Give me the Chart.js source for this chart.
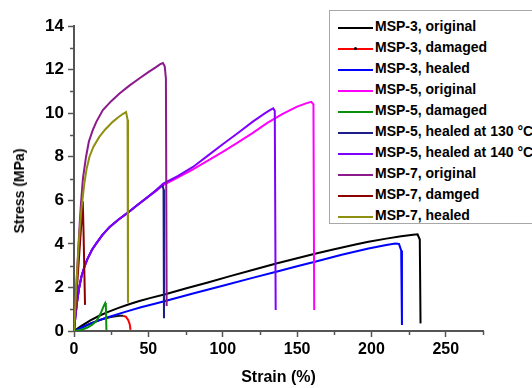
<!DOCTYPE html>
<html>
<head>
<meta charset="utf-8">
<script src="https://cdn.jsdelivr.net/npm/chart.js@4.4.0/dist/chart.umd.min.js"></script>
<style>
html,body{margin:0;padding:0;background:#fff;}
#wrap{position:relative;width:532px;height:388px;overflow:hidden;background:#fff;}
#c{position:absolute;left:0;top:0;}
#ytitle{position:absolute;left:19px;top:191px;transform:translate(-50%,-50%) rotate(-90deg);font:bold 14px "Liberation Sans",Arial,sans-serif;white-space:nowrap;color:#000;}
#legend{position:absolute;left:329px;top:10px;width:230px;height:214px;border:1px solid #a8a8a8;background:#fff;box-sizing:border-box;}
.row{position:absolute;left:0;height:20px;width:100%;}
.sw{position:absolute;left:8px;top:9px;width:35px;height:2px;}
.dot{position:absolute;left:16px;top:-1px;width:3px;height:3px;border-radius:50%;background:#000;}
.lt{position:absolute;left:45px;top:0;line-height:20px;font:bold 14px "Liberation Sans",Arial,sans-serif;color:#000;white-space:nowrap;}
</style>
</head>
<body>
<div id="wrap">
<canvas id="c" width="532" height="388" style="width:532px;height:388px"></canvas>
<div id="ytitle">Stress (MPa)</div>
<div id="legend"></div>
</div>
<script>
// ---- Tick values ----
const xTicks = [0, 50, 100, 150, 200, 250];
const yTicks = [0, 2, 4, 6, 8, 10, 12, 14];
const xMinor = [25, 75, 125, 175, 225, 275];
const yMinor = [1, 3, 5, 7, 9, 11, 13];

// ---- Series labels ----
const seriesLabels = [
  "MSP-3, original", "MSP-3, damaged", "MSP-3, healed",
  "MSP-5, original", "MSP-5, damaged", "MSP-5, healed at 130 \u00B0C",
  "MSP-5, healed at 140 \u00B0C", "MSP-7, original", "MSP-7, damged", "MSP-7, healed"
];

// ---- Series data (strain %, stress MPa) ----
const msp3OrigX = [0,5,11,17,23,30,37,44,51,62,75,90,105,120,136,150,162,175,190,198,210,220,228,231,232.5,233];
const msp3OrigY = [0,0.24,0.49,0.70,0.88,1.06,1.23,1.38,1.51,1.70,1.95,2.23,2.52,2.80,3.10,3.34,3.55,3.75,3.98,4.10,4.24,4.35,4.42,4.44,4.20,0.35];

const msp3DamX = [0,4,8,12,16,20,24,28,31,33,35,36.5,37.5,38];
const msp3DamY = [0,0.12,0.25,0.37,0.47,0.56,0.63,0.68,0.70,0.70,0.65,0.50,0.30,0.05];

const msp3HealX = [0,5,11,18,25,35,45,55,62,80,100,120,136,150,162,180,198,210,216,218.5,220,220.5];
const msp3HealY = [0,0.15,0.34,0.52,0.68,0.89,1.09,1.26,1.39,1.72,2.08,2.44,2.72,2.97,3.18,3.50,3.79,3.95,4.02,4.00,3.70,0.28];

const msp5OrigX = [0,1,2,3.5,5,7,9,12,15,19,24,30,36,42,49,55,60,70,80,90,100,110,120,130,140,150,156,159.5,161,161.5];
const msp5OrigY = [0,0.7,1.3,2.0,2.5,2.95,3.3,3.72,4.02,4.4,4.78,5.12,5.42,5.75,6.12,6.42,6.70,7.05,7.42,7.82,8.22,8.65,9.08,9.55,9.95,10.3,10.45,10.52,10.4,0.96];

const msp5DamX = [0,3,6,9,12,15,17,18.5,20,21,21.4,21.8];
const msp5DamY = [0,0.03,0.08,0.16,0.28,0.45,0.68,0.90,1.15,1.28,1.20,0.05];

const msp5H130X = [0,1,2,3.5,5,7,9,12,15,19,24,30,36,42,49,55,58,59.5,60.2,60.5];
const msp5H130Y = [0,0.7,1.3,2.0,2.5,2.95,3.3,3.72,4.02,4.4,4.78,5.12,5.42,5.75,6.12,6.45,6.62,6.70,6.5,0.58];

const msp5H140X = [0,1,2,3.5,5,7,9,12,15,19,24,30,36,42,49,55,60,70,80,90,100,110,120,128,132,134,135,135.6];
const msp5H140Y = [0,0.7,1.3,2.0,2.5,2.95,3.3,3.72,4.02,4.4,4.78,5.12,5.42,5.75,6.12,6.45,6.77,7.12,7.53,8.05,8.57,9.08,9.6,9.98,10.15,10.22,10.1,0.96];

const msp7OrigX = [0,1,2,3,4,4.7,6,8.1,10,12.6,15,19.4,25,30.6,37,44.1,50,54.9,58,59.8,61,61.8,62.3];
const msp7OrigY = [0,1.3,2.6,3.9,5.1,5.86,7.0,8.0,8.7,9.22,9.6,10.14,10.55,10.9,11.25,11.6,11.88,12.1,12.25,12.3,12.15,11.6,1.15];

const msp7DamX = [0,1.5,3,4.5,5.9,6.4,7.0,7.4];
const msp7DamY = [0,1.5,3.0,4.5,5.95,4.6,2.6,1.2];

const msp7HealX = [0,1,2,3,4,5,6,7,8.5,10.4,13,17,21,26,30,33,35,35.6,36,36.3];
const msp7HealY = [0,1.3,2.6,3.8,4.8,5.6,6.2,6.8,7.45,8.0,8.45,8.91,9.25,9.6,9.82,9.97,10.05,10.05,9.7,1.3];

// ---- Styles ----
const seriesColors = ["#000000","#ff0000","#0000ff","#ff00ff","#0a8f0a","#1c1c8a","#8000ff","#8b1a8b","#8b0000","#8f8f10"];

const seriesX = [msp3OrigX, msp3DamX, msp3HealX, msp5OrigX, msp5DamX, msp5H130X, msp5H140X, msp7OrigX, msp7DamX, msp7HealX];
const seriesY = [msp3OrigY, msp3DamY, msp3HealY, msp5OrigY, msp5DamY, msp5H130Y, msp5H140Y, msp7OrigY, msp7DamY, msp7HealY];

const n = seriesLabels.length;
const datasets = seriesLabels.map((lab, i) => {
  const ds = {
    label: lab,
    data: seriesX[i].map((x, k) => ({x: x, y: seriesY[i][k]})),
    borderColor: seriesColors[i],
    backgroundColor: seriesColors[i],
    borderWidth: 2,
    pointRadius: 0,
    tension: 0,
    fill: false,
    order: n - i
  };
  if (i === 1) {
    ds.segment = { borderColor: c => (c.p1.parsed.x <= 34 ? "#1a1a1a" : "#ff0000") };
  }
  return ds;
});

const FONT = '"Liberation Sans", Arial, sans-serif';

const minorTicks = {
  id: 'minorTicks',
  afterDraw(chart) {
    const ctx = chart.ctx;
    const xs = chart.scales.x, ys = chart.scales.y;
    ctx.save();
    ctx.strokeStyle = '#555';
    ctx.lineWidth = 1.5;
    ctx.beginPath();
    xMinor.forEach(v => {
      const px = Math.round(xs.getPixelForValue(v)) + 0.5;
      ctx.moveTo(px, ys.bottom);
      ctx.lineTo(px, ys.bottom + 4);
    });
    yMinor.forEach(v => {
      const py = Math.round(ys.getPixelForValue(v)) + 0.5;
      ctx.moveTo(xs.left, py);
      ctx.lineTo(xs.left - 4, py);
    });
    ctx.stroke();
    ctx.restore();
  }
};

new Chart(document.getElementById('c'), {
  type: 'line',
  data: { datasets: datasets },
  options: {
    responsive: false,
    animation: false,
    devicePixelRatio: 1,
    layout: { padding: { left: 0, right: 49, top: 26, bottom: 0 } },
    plugins: { legend: { display: false }, tooltip: { enabled: false } },
    scales: {
      x: {
        type: 'linear', min: 0, max: 275,
        afterBuildTicks: s => { s.ticks = xTicks.map(v => ({ value: v })); },
        afterFit: s => { s.height = 57; },
        grid: { drawOnChartArea: false, drawTicks: true, tickLength: 6, tickColor: '#555', tickWidth: 1.5 },
        border: { display: true, color: '#555', width: 2 },
        ticks: { color: '#000', font: { family: FONT, size: 16, weight: 'bold' }, padding: 3, maxRotation: 0 },
        title: { display: true, text: 'Strain (%)', color: '#000', font: { family: FONT, size: 16, weight: 'bold' }, padding: { top: 0, bottom: 1 } }
      },
      y: {
        type: 'linear', min: 0, max: 14,
        afterBuildTicks: s => { s.ticks = yTicks.map(v => ({ value: v })); },
        afterFit: s => { s.width = 74; },
        grid: { drawOnChartArea: false, drawTicks: true, tickLength: 6, tickColor: '#555', tickWidth: 1.5 },
        border: { display: true, color: '#555', width: 2 },
        ticks: { color: '#000', font: { family: FONT, size: 17, weight: 'bold' }, padding: 4 }
      }
    }
  },
  plugins: [minorTicks]
});

// ---- HTML legend built from the series arrays ----
const legend = document.getElementById('legend');
seriesLabels.forEach((lab, i) => {
  const row = document.createElement('div');
  row.className = 'row';
  row.style.top = (7 + i * 21) + 'px';
  const sw = document.createElement('div');
  sw.className = 'sw';
  sw.style.background = seriesColors[i];
  if (i === 1) {
    const d = document.createElement('div');
    d.className = 'dot';
    sw.appendChild(d);
  }
  const t = document.createElement('div');
  t.className = 'lt';
  t.textContent = lab;
  row.appendChild(sw);
  row.appendChild(t);
  legend.appendChild(row);
});
</script>
</body>
</html>
